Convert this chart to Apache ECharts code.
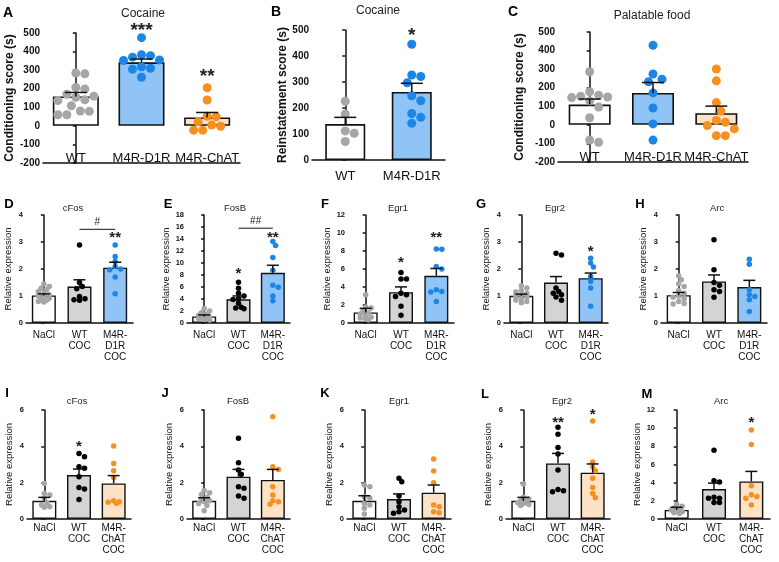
<!DOCTYPE html>
<html><head><meta charset="utf-8">
<script src="https://cdn.jsdelivr.net/npm/echarts@6/dist/echarts.min.js"></script>
<style>html,body{margin:0;padding:0;background:#fff}#c{width:779px;height:562px}</style>
</head><body><div id="c"></div><script>
// ---------- DATA ----------
const A_cats = ['WT', 'M4R-D1R', 'M4R-ChAT'];
const A_means = [158, 342, 45];
const A_sem = [22, 18, 27];
const A_wt = [284, 280, 207, 198, 170, 160, 153, 140, 136, 108, 80, 78, 60, 60];
const A_d1r = [475, 383, 378, 370, 355, 352, 318, 310, 305, 262];
const A_chat = [205, 139, 52, 49, 22, -2, 4, -23, -23];
const A_ann = [[1, 533, '***'], [2, 285, '**']];

const B_cats = ['WT', 'M4R-D1R'];
const B_means = [138, 262];
const B_sem = [26, 33];
const B_wt = [226, 177, 112, 103, 71];
const B_d1r = [445, 327, 321, 297, 247, 228, 179, 164, 141];
const B_ann = [[1, 492, '*']];

const C_cats = ['WT', 'M4R-D1R', 'M4R-ChAT'];
const C_means = [109, 172, 63];
const C_sem = [30, 56, 38];
const C_wt = [286, 178, 160, 154, 150, 147, 129, 96, 38, -82, -94];
const C_d1r = [428, 274, 246, 232, 172, 91, 5, -82];
const C_chat = [301, 237, 120, 74, 24, 14, -4, -22, -58, -58];

const ROW2_cats = ['NaCl', 'WT\nCOC', 'M4R-\nD1R\nCOC'];
const ROW3_cats = ['NaCl', 'WT\nCOC', 'M4R-\nChAT\nCOC'];

const D_means = [1.02, 1.35, 2.05], D_sem = [0.06, 0.25, 0.2];
const D_nacl = [1.44, 1.35, 1.29, 1.23, 1.17, 1.1, 1.05, 1.0, 0.96, 0.92, 0.88, 0.84, 0.8, 0.78];
const D_wt = [2.89, 1.5, 1.35, 1.27, 0.98, 0.9, 0.86, 0.84];
const D_d1r = [2.89, 2.46, 2.28, 2.09, 2.0, 1.97, 1.7, 1.08];
const D_ann = [[2, 3.26, '**']];
const D_sig = [1, 2, 3.47, '#', 3.73];

const E_means = [1.1, 3.96, 8.37], E_sem = [0.25, 0.55, 1.25];
const E_nacl = [2.4, 2.0, 1.7, 1.5, 1.3, 1.1, 1.0, 0.9, 0.8, 0.7, 0.6, 0.5];
const E_wt = [6.8, 5.8, 4.95, 4.5, 4.1, 3.9, 3.3, 2.64, 2.48, 2.37];
const E_d1r = [13.6, 12.9, 10.9, 8.8, 6.3, 5.94, 4.5, 3.7];
const E_ann = [[1, 8.8, '*'], [2, 14.75, '**']];
const E_sig = [1, 2, 15.8, '##', 16.9];

const F_means = [1.18, 3.43, 5.24], F_sem = [0.45, 0.58, 0.82];
const F_nacl = [3.14, 1.77, 1.66, 1.3, 1.1, 1.0, 0.81, 0.63, 0.55, 0.45, 0.37];
const F_wt = [5.6, 4.9, 4.9, 3.3, 3.14, 2.95, 1.85, 0.85];
const F_d1r = [8.23, 8.2, 6.28, 6.0, 3.7, 3.5, 3.45, 2.4];
const F_ann = [[1, 7.0, '*'], [2, 9.8, '**']];

const G_means = [1.01, 1.5, 1.66], G_sem = [0.06, 0.22, 0.19];
const G_nacl = [1.38, 1.3, 1.2, 1.15, 1.1, 1.05, 1.0, 0.95, 0.9, 0.85, 0.8, 0.75];
const G_wt = [2.58, 2.52, 1.3, 1.17, 1.1, 1.05, 0.96, 0.84];
const G_d1r = [2.4, 2.22, 2.07, 1.72, 1.54, 1.3, 0.62];
const G_ann = [[2, 2.77, '*']];

const H_means = [1.03, 1.54, 1.33], H_sem = [0.1, 0.24, 0.25];
const H_nacl = [1.75, 1.6, 1.45, 1.35, 1.2, 1.1, 1.0, 0.95, 0.9, 0.8, 0.72, 0.7];
const H_wt = [3.08, 1.97, 1.5, 1.4, 1.23, 1.17, 0.95];
const H_d1r = [2.36, 2.18, 1.23, 1.05, 0.98, 0.86, 0.43];

const I_means = [1.0, 2.42, 1.96], I_sem = [0.19, 0.33, 0.43];
const I_nacl = [1.96, 1.41, 1.32, 1.14, 0.9, 0.77, 0.68, 0.64];
const I_wt = [3.61, 3.43, 2.88, 2.79, 2.33, 1.74, 1.65, 1.08];
const I_chat = [4.02, 3.06, 2.66, 2.29, 1.01, 0.95, 0.92, 0.86];
const I_ann = [[1, 4.13, '*']];

const J_means = [1.0, 2.33, 2.15], J_sem = [0.17, 0.4, 0.58];
const J_nacl = [1.57, 1.45, 1.35, 1.2, 1.1, 1.0, 0.95, 0.85, 0.75, 0.45];
const J_wt = [4.44, 3.1, 2.7, 2.46, 1.78, 1.69, 1.27, 1.14];
const J_chat = [5.63, 2.88, 2.73, 1.78, 1.32, 1.01, 0.95, 0.81];

const K_means = [1.0, 1.1, 1.45], K_sem = [0.28, 0.28, 0.42];
const K_nacl = [1.87, 1.78, 1.23, 1.14, 0.86, 0.77, 0.59, 0.28];
const K_wt = [2.24, 2.05, 1.27, 0.95, 0.68, 0.5, 0.4, 0.31];
const K_chat = [3.3, 2.64, 2.0, 0.77, 0.68, 0.4, 0.35];

const L_means = [1.0, 3.06, 2.55], L_sem = [0.19, 0.55, 0.48];
const L_nacl = [1.93, 1.2, 1.1, 1.0, 0.95, 0.9, 0.85, 0.8, 0.75];
const L_wt = [5.05, 4.66, 3.93, 3.58, 2.7, 1.63, 1.55, 1.5];
const L_chat = [5.39, 3.14, 2.88, 2.66, 2.24, 1.74, 1.41, 1.17];
const L_ann = [[1, 5.49, '**'], [2, 5.9, '*']];

const M_means = [1.0, 3.29, 4.14], M_sem = [0.29, 0.66, 1.1];
const M_nacl = [1.6, 1.4, 1.2, 1.1, 1.0, 0.9, 0.8, 0.7, 0.6];
const M_wt = [7.57, 4.21, 4.06, 2.4, 2.29, 2.29, 1.81, 1.81];
const M_chat = [9.79, 8.2, 3.66, 2.66, 2.47, 2.29, 1.55];
const M_ann = [[2, 10.9, '*']];

// ---------- STYLE ----------
const FONT = '"Liberation Sans", Arial, Helvetica, sans-serif';
const WHITE = '#ffffff', BLUEF = '#90c4f6', ORF = '#fde2c5', GRF = '#d4d4d4';
const GRD = '#a6a6a6', BLD = '#1c86e6', ORD = '#f6901e', BKD = '#000000';

const TOP = {tick: 10, cat: 13, catLH: 14, name: 12, nameW: 'bold', title: 12, letter: 14, dot: 9, cap: 11, star: 19, bw: 1.6, thr: 1.0, maxOff: 2.4};
const SMALL = {tick: 7.5, cat: 10, catLH: 11, name: 9.5, nameW: 'normal', title: 9.5, letter: 13, dot: 5.5, cap: 6, star: 15, bw: 1.4, thr: 0.8, maxOff: 1.4};

const panels = [
  {L: 'A', title: 'Cocaine', cats: A_cats, means: A_means, sem: A_sem, groups: [A_wt, A_d1r, A_chat], ann: A_ann,
   g: [43, 33, 197, 130], y: [-200, 500, 100], yname: 'Conditioning score (s)', s: TOP,
   fills: [WHITE, BLUEF, ORF], dots: [GRD, BLD, ORD], barW: 46, nameGap: 27, catMargin: -12, letter: [8, 13], tpos: [143, 14]},
  {L: 'B', title: 'Cocaine', cats: B_cats, means: B_means, sem: B_sem, groups: [B_wt, B_d1r], ann: B_ann,
   g: [312, 30, 133, 130], y: [0, 500, 100], yname: 'Reinstatement score (s)', s: TOP,
   fills: [WHITE, BLUEF], dots: [GRD, BLD], barW: 40, nameGap: 23, catMargin: 9, letter: [276, 12], tpos: [378, 11]},
  {L: 'C', title: 'Palatable food', cats: C_cats, means: C_means, sem: C_sem, groups: [C_wt, C_d1r, C_chat], ann: [],
   g: [558, 32, 190, 130], y: [-200, 500, 100], yname: 'Conditioning score (s)', s: TOP,
   fills: [WHITE, BLUEF, ORF], dots: [GRD, BLD, ORD], barW: 42, nameGap: 32, catMargin: -12, letter: [513, 12], tpos: [652, 16]},

  {L: 'D', title: 'cFos', cats: ROW2_cats, means: D_means, sem: D_sem, groups: [D_nacl, D_wt, D_d1r], ann: D_ann, sig: D_sig,
   g: [26, 215, 107, 108], y: [0, 4, 1], yname: 'Relative expression', s: SMALL,
   fills: [WHITE, GRF, BLUEF], dots: [GRD, BKD, BLD], barW: 24, nameGap: 13, catMargin: 7, letter: [9, 204], tpos: [73, 208]},
  {L: 'E', title: 'FosB', cats: ROW2_cats, means: E_means, sem: E_sem, groups: [E_nacl, E_wt, E_d1r], ann: E_ann, sig: E_sig,
   g: [187, 215, 103, 108], y: [0, 18, 2], yname: 'Relative expression', s: SMALL,
   fills: [WHITE, GRF, BLUEF], dots: [GRD, BKD, BLD], barW: 24, nameGap: 14, catMargin: 7, letter: [168, 204], tpos: [235, 208]},
  {L: 'F', title: 'Egr1', cats: ROW2_cats, means: F_means, sem: F_sem, groups: [F_nacl, F_wt, F_d1r], ann: F_ann,
   g: [348, 215, 106, 108], y: [0, 12, 2], yname: 'Relative expression', s: SMALL,
   fills: [WHITE, GRF, BLUEF], dots: [GRD, BKD, BLD], barW: 24, nameGap: 14, catMargin: 7, letter: [325, 204], tpos: [398, 208]},
  {L: 'G', title: 'Egr2', cats: ROW2_cats, means: G_means, sem: G_sem, groups: [G_nacl, G_wt, G_d1r], ann: G_ann,
   g: [504, 215, 104, 108], y: [0, 4, 1], yname: 'Relative expression', s: SMALL,
   fills: [WHITE, GRF, BLUEF], dots: [GRD, BKD, BLD], barW: 24, nameGap: 13, catMargin: 7, letter: [481, 204], tpos: [555, 208]},
  {L: 'H', title: 'Arc', cats: ROW2_cats, means: H_means, sem: H_sem, groups: [H_nacl, H_wt, H_d1r], ann: [],
   g: [661, 215, 106, 108], y: [0, 4, 1], yname: 'Relative expression', s: SMALL,
   fills: [WHITE, GRF, BLUEF], dots: [GRD, BKD, BLD], barW: 24, nameGap: 13, catMargin: 7, letter: [640, 204], tpos: [717, 208]},

  {L: 'I', title: 'cFos', cats: ROW3_cats, means: I_means, sem: I_sem, groups: [I_nacl, I_wt, I_chat], ann: I_ann,
   g: [27, 410, 104, 109], y: [0, 6, 2], yname: 'Relative expression', s: SMALL,
   fills: [WHITE, GRF, ORF], dots: [GRD, BKD, ORD], barW: 24, nameGap: 13, catMargin: 4, letter: [7, 393], tpos: [77, 401]},
  {L: 'J', title: 'FosB', cats: ROW3_cats, means: J_means, sem: J_sem, groups: [J_nacl, J_wt, J_chat], ann: [],
   g: [187, 410, 103, 109], y: [0, 6, 2], yname: 'Relative expression', s: SMALL,
   fills: [WHITE, GRF, ORF], dots: [GRD, BKD, ORD], barW: 24, nameGap: 13, catMargin: 4, letter: [165, 393], tpos: [238, 401]},
  {L: 'K', title: 'Egr1', cats: ROW3_cats, means: K_means, sem: K_sem, groups: [K_nacl, K_wt, K_chat], ann: [],
   g: [347, 410, 104, 109], y: [0, 6, 2], yname: 'Realtive expression', s: SMALL,
   fills: [WHITE, GRF, ORF], dots: [GRD, BKD, ORD], barW: 24, nameGap: 13, catMargin: 4, letter: [325, 393], tpos: [399, 401]},
  {L: 'L', title: 'Egr2', cats: ROW3_cats, means: L_means, sem: L_sem, groups: [L_nacl, L_wt, L_chat], ann: L_ann,
   g: [506, 410, 104, 109], y: [0, 6, 2], yname: 'Relative expression', s: SMALL,
   fills: [WHITE, GRF, ORF], dots: [GRD, BKD, ORD], barW: 24, nameGap: 13, catMargin: 4, letter: [485, 394], tpos: [562, 401]},
  {L: 'M', title: 'Arc', cats: ROW3_cats, means: M_means, sem: M_sem, groups: [M_nacl, M_wt, M_chat], ann: M_ann,
   g: [658, 410, 112, 109], y: [0, 12, 2], yname: 'Relative expression', s: SMALL,
   fills: [WHITE, GRF, ORF], dots: [GRD, BKD, ORD], barW: 24, nameGap: 8, catMargin: 4, letter: [647, 394], tpos: [721, 401]}
];

// ---------- BUILD ----------
// compact beeswarm: offsets (in category units) limited to a narrow band
function swarm(vals, pxPerUnit, d, catPx, thrF, maxF) {
  const idx = vals.map((v, i) => i).sort((a, b) => vals[b] - vals[a]);
  const placed = [], offs = new Array(vals.length).fill(0);
  const step = d * 0.5, thr = d * thrF, maxOff = d * maxF;
  for (const i of idx) {
    const y = vals[i] * pxPerUnit;
    let best = 0, bestScore = -1;
    for (let k = 0; k < 40; k++) {
      const o = (k === 0 ? 0 : (k % 2 ? 1 : -1) * Math.ceil(k / 2)) * step;
      if (Math.abs(o) > maxOff) break;
      const md = placed.reduce((m, p) => Math.min(m, Math.hypot(p[0] - o, p[1] - y)), Infinity);
      if (md >= thr) { best = o; break; }
      if (md > bestScore) { bestScore = md; best = o; }
    }
    placed.push([best, y]); offs[i] = best / catPx;
  }
  return offs;
}

const grids = [], xAxes = [], yAxes = [], series = [], graphics = [];

panels.forEach(p => {
  const s = p.s, gi = grids.length, n = p.cats.length;
  grids.push({left: p.g[0], top: p.g[1], width: p.g[2], height: p.g[3], containLabel: false});
  const xc = xAxes.length;
  xAxes.push({type: 'category', gridIndex: gi, data: p.cats, position: 'bottom',
    axisLine: {show: false}, axisTick: {show: false}, splitLine: {show: false},
    axisLabel: {interval: 0, margin: p.catMargin, fontSize: s.cat, lineHeight: s.catLH, color: '#111', fontFamily: FONT, verticalAlign: 'top'}});
  const xv = xAxes.length;
  xAxes.push({type: 'value', gridIndex: gi, min: -0.5, max: n - 0.5, position: 'bottom',
    axisLine: {show: true, onZero: true, lineStyle: {color: '#111', width: 1.5}},
    axisTick: {show: false}, axisLabel: {show: false}, splitLine: {show: false}});
  const yi = yAxes.length;
  yAxes.push({type: 'value', gridIndex: gi, min: p.y[0], max: p.y[1], interval: p.y[2],
    name: p.yname, nameLocation: 'middle', nameGap: p.nameGap, nameRotate: 90,
    nameTextStyle: {fontSize: s.name, fontWeight: s.nameW, color: '#111', fontFamily: FONT},
    axisLine: {show: true, lineStyle: {color: '#111', width: 1.5}},
    axisTick: {show: true, length: 3, lineStyle: {color: '#111', width: 1.5}},
    axisLabel: {fontSize: s.tick, fontWeight: 'bold', color: '#111', fontFamily: FONT, margin: 3},
    splitLine: {show: false}});

  series.push({type: 'bar', xAxisIndex: xc, yAxisIndex: yi, barWidth: p.barW, z: 2, silent: true,
    data: p.means.map((m, i) => ({value: m, itemStyle: {color: p.fills[i]}})),
    itemStyle: {borderColor: '#111', borderWidth: s.bw}});

  const pxPerUnit = p.g[3] / (p.y[1] - p.y[0]);
  const catPx = p.g[2] / n;
  p.groups.forEach((vals, gi2) => {
    const offs = swarm(vals, pxPerUnit, s.dot, catPx, s.thr, s.maxOff);
    series.push({type: 'scatter', xAxisIndex: xv, yAxisIndex: yi, z: 3, silent: true,
      symbol: 'circle', symbolSize: s.dot,
      itemStyle: {color: p.dots[gi2], opacity: 1},
      data: vals.map((v, k) => [gi2 + offs[k], v])});
  });

  series.push({type: 'custom', xAxisIndex: xv, yAxisIndex: yi, z: 4, silent: true, clip: false,
    data: p.means.map((m, i) => [i, m, p.sem[i]]),
    renderItem: (params, api) => {
      const x = api.value(0), m = api.value(1), e = api.value(2);
      const a = api.coord([x, m]), b = api.coord([x, m + e]);
      return {type: 'group', children: [
        {type: 'line', shape: {x1: a[0], y1: a[1], x2: b[0], y2: b[1]}, style: {stroke: '#111', lineWidth: 1.5}},
        {type: 'line', shape: {x1: b[0] - s.cap, y1: b[1], x2: b[0] + s.cap, y2: b[1]}, style: {stroke: '#111', lineWidth: 1.5}}
      ]};
    }});

  if (p.ann.length) {
    series.push({type: 'custom', xAxisIndex: xv, yAxisIndex: yi, z: 5, silent: true, clip: false,
      data: p.ann.map(a => [a[0], a[1]]),
      renderItem: (params, api) => {
        const a = p.ann[params.dataIndex];
        const c = api.coord([a[0], a[1]]);
        return {type: 'text', x: c[0], y: c[1] + s.star * 0.22,
          style: {text: a[2], font: 'bold ' + s.star + 'px ' + FONT, fill: '#222', align: 'center', verticalAlign: 'middle'}};
      }});
  }
  if (p.sig) {
    const sg = p.sig;
    series.push({type: 'custom', xAxisIndex: xv, yAxisIndex: yi, z: 5, silent: true, clip: false,
      data: [[sg[0], sg[2]]],
      renderItem: (params, api) => {
        const a = api.coord([sg[0], sg[2]]), b = api.coord([sg[1], sg[2]]);
        const t = api.coord([(sg[0] + sg[1]) / 2, sg[4]]);
        return {type: 'group', children: [
          {type: 'line', shape: {x1: a[0], y1: a[1], x2: b[0], y2: b[1]}, style: {stroke: '#111', lineWidth: 1}},
          {type: 'text', x: t[0], y: t[1], style: {text: sg[3], font: '10px ' + FONT, fill: '#222', align: 'center', verticalAlign: 'middle'}}
        ]};
      }});
  }

  graphics.push({type: 'text', x: p.letter[0], y: p.letter[1], silent: true,
    style: {text: p.L, font: 'bold ' + s.letter + 'px ' + FONT, fill: '#000', align: 'center', verticalAlign: 'middle'}});
  graphics.push({type: 'text', x: p.tpos[0], y: p.tpos[1], silent: true,
    style: {text: p.title, font: s.title + 'px ' + FONT, fill: '#222', align: 'center', verticalAlign: 'middle'}});
});

const chart = echarts.init(document.getElementById('c'), null, {renderer: 'canvas'});
chart.setOption({
  animation: false,
  backgroundColor: '#fff',
  grid: grids, xAxis: xAxes, yAxis: yAxes, series: series,
  graphic: {elements: graphics}
});
</script></body></html>
